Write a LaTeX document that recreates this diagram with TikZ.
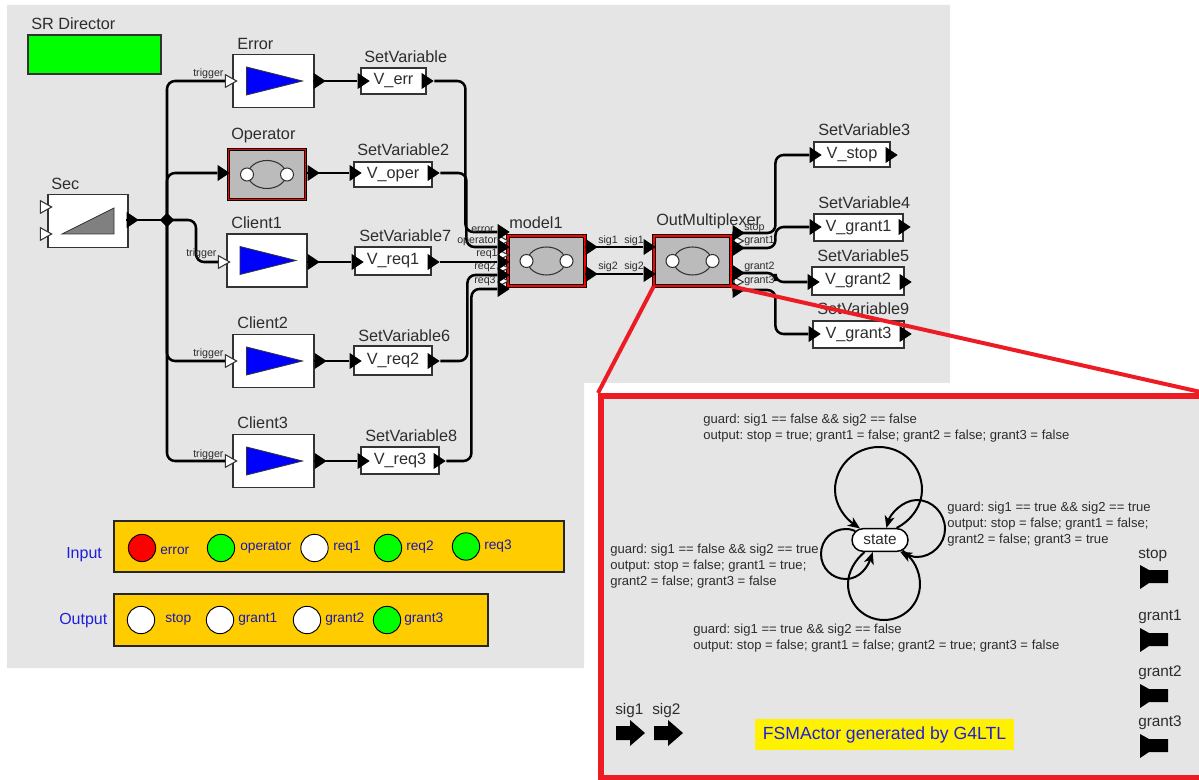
\documentclass[tikz,border=0pt]{standalone}
\usepackage{fontspec}
\setmainfont{Liberation Sans}
\usetikzlibrary{arrows.meta,positioning,shapes.geometric,shapes.misc}
\definecolor{srgray}{RGB}{229,229,229}
\definecolor{srtext}{RGB}{45,45,45}
\definecolor{srred}{RGB}{237,28,36}
\definecolor{srgreen}{RGB}{0,255,0}
\definecolor{srorange}{RGB}{255,204,0}
\definecolor{srblue}{RGB}{30,30,220}
\definecolor{srcomp}{RGB}{187,187,187}
\frenchspacing
\tikzset{
  block/.style={draw=black!80, line width=0.8pt, fill=white, inner sep=0pt},
  compbox/.style={draw=black, double=red, double distance=1.3pt, line width=0.5pt, fill=srcomp, inner sep=0pt, minimum width=77*0.75pt, minimum height=50*0.75pt},
  varbox/.style={block, font=\fontsize{12.2}{14}\selectfont, text=srtext},
  blocklabel/.style={anchor=base west, inner sep=0pt, font=\fontsize{12.2}{14}\selectfont, text=srtext},
  portlabel/.style={anchor=base west, inner sep=0pt, font=\fontsize{8}{9}\selectfont, text=srtext},
  blackport/.style={isosceles triangle, isosceles triangle stretches, fill=black, inner sep=0pt, minimum width=12pt, minimum height=9pt},
  hollowport/.style={isosceles triangle, isosceles triangle stretches, draw=black!80, line width=0.8pt, fill=white, inner sep=0pt, minimum width=9.5pt, minimum height=8.5pt},
  smallport/.style={hollowport, minimum width=7.5pt, minimum height=7pt},
  wire/.style={draw=black, line width=1.9pt, rounded corners=6pt},
  lamp/.style={circle, draw=black, line width=0.7pt, inner sep=0pt, minimum size=20.5pt},
  lamplabel/.style={anchor=base west, inner sep=0pt, font=\fontsize{10.3}{12}\selectfont, text=srblue!80!black},
  panellabel/.style={anchor=base west, inner sep=0pt, font=\fontsize{12}{14}\selectfont, text=srblue},
  panel/.style={draw=black!85, line width=0.8pt, fill=srorange, inner sep=0pt},
  guardtext/.style={anchor=north west, inner sep=0pt, align=left, font=\fontsize{9.8}{11.8}\selectfont, text=srtext},
  fsmloop/.style={draw=black, line width=1.5pt, -{Stealth[length=9pt,width=7.5pt,inset=2.5pt]}},
}
\begin{document}
\begin{tikzpicture}[x=0.75pt,y=-0.75pt]
\useasboundingbox (0,0) rectangle (1199,780);
% backdrop
\fill[srgray] (7,5) -- (950,5) -- (950,383) -- (584,383) -- (584,668) -- (7,668) -- cycle;
% director
\node[blocklabel] (dirlabel) at (31,29.5) {SR Director};
\node[draw=black!80, line width=0.8pt, fill=srgreen, minimum width=133*0.75pt, minimum height=39*0.75pt, inner sep=0pt] (director) at (94.5,54.5) {};
% actors
\foreach \nm/\x/\y/\w in {sec/88/221/80, err/273.5/81/81, cli1/267/260.5/80, cli2/273.5/361/81, cli3/273.5/461/81} {
  \node[block, minimum width=\w*0.75pt, minimum height=53*0.75pt] (\nm) at (\x,\y) {};
}
\foreach \nm in {err,cli1,cli2,cli3} {
  \draw[draw=black!80, line width=0.6pt, fill=blue] (\nm.center) ++(-27,-14) -- ++(56,14) -- ++(-56,14) -- cycle;
}
\draw[draw=black!80, line width=0.6pt, fill=black!50] (sec.center) ++(-26,13) -- ++(52,-26) -- ++(0,26) -- cycle;
% composite actors
\node[compbox] (oper) at (267,174.5) {};
\node[compbox] (model) at (546.5,261) {};
\node[compbox] (outmux) at (692.5,261) {};
\foreach \nm in {oper,model,outmux} {
  \draw[black!80, line width=0.8pt] (\nm.center) ellipse (19 and 14);
  \draw[black!80, line width=0.8pt, fill=white] (\nm.center) ++(-20,0) circle (6.5);
  \draw[black!80, line width=0.8pt, fill=white] (\nm.center) ++(20,0) circle (6.5);
}
% SetVariable boxes
\foreach \nm/\x/\y/\w/\h/\txt in {verr/393.5/81/65/26/V\_err, voper/393/174.5/78/25/V\_oper, vreq1/393/261/76/28/V\_req1, vreq2/393/360.5/78/29/V\_req2, vreq3/400/460.5/78/27/V\_req3, vstop/852/154.5/76/25/V\_stop, vgrant1/858.5/227.5/89/27/V\_grant1, vgrant2/858/281/92/28/V\_grant2, vgrant3/858.5/334.5/91/27/V\_grant3} {
  \node[varbox, minimum width=\w*0.75pt, minimum height=\h*0.75pt] (\nm) at (\x,\y) {\txt};
}
% ports
\foreach \nm/\x/\y in {pseca/44/207, psecb/44/234, perrt/229/81, pcliat/222/262, pclibt/229/361, pclict/229/461} {
  \node[hollowport] (\nm) at (\x,\y) {};
}
\foreach \nm/\x/\y in {pma/502/241, pmb/502/255, pmc/502/268, pmd/502/281, pga/737/241, pgb/737/282} {
  \node[smallport] (\nm) at (\x,\y) {};
}
\foreach \nm/\x/\y in {pseco/131/220, perro/318/81, popi/222/173, popo/312/173, pclia/312/262, pclib/319/361, pclic/319/461, verri/362/81, verro/426/81, voperi/354/173, vopero/432/173, vreqai/356/262, vreqao/432/262, vreqbi/354/361, vreqbo/432/361, vreqci/362/461, vreqco/438/461, merror/502/232, moper/502/247, mreqa/502/262, mreqb/502/275, mreqc/502/289, msiga/590/247, msigb/590/274, osiga/648/247, osigb/648/274, ostop/737/233, ogranta/737/248, ograntb/737/273, ograntc/737/290, vstopi/814/155, vstopo/890/155, vgai/814/227, vgao/903/227, vgbi/812/282, vgbo/904/282, vgci/813/334, vgco/904/334} {
  \node[blackport] (\nm) at (\x,\y) {};
}
\node[diamond, fill=black, inner sep=0pt, minimum size=11pt] (junc) at (167,220) {};
% connections
\draw[wire] (pseco.west) -- (junc.center);
\draw[wire] (junc.center) |- (perrt.west);
\draw[wire] (junc.center) |- (popi.west);
\draw[wire] (junc.center) -- ++(29,0) |- (pcliat.west);
\draw[wire] (junc.center) |- (pclibt.west);
\draw[wire] (junc.center) |- (pclict.west);
\draw[wire] (perro.west) -- (verri.west);
\draw[wire] (popo.west) -- (voperi.west);
\draw[wire] (pclia.west) -- (vreqai.west);
\draw[wire] (pclib.west) -- (vreqbi.west);
\draw[wire] (pclic.west) -- (vreqci.west);
\draw[wire] (verro.east) -- ++(31,0) |- (merror.west);
\draw[wire] (vopero.east) -- ++(26,0) |- (moper.west);
\draw[wire] (vreqao.east) -- (mreqa.west);
\draw[wire] (vreqbo.east) -- ++(27,0) |- (mreqb.west);
\draw[wire] (vreqco.east) -- ++(25,0) |- (mreqc.west);
\draw[wire] (msiga.west) -- (osiga.west);
\draw[wire] (msigb.west) -- (osigb.west);
\draw[wire] (ostop.west) -- ++(43,0) |- (vstopi.west);
\draw[wire] (ogranta.west) -- ++(43,0) |- (vgai.west);
\draw[wire] (ograntb.west) -- ++(43,0) |- (vgbi.west);
\draw[wire] (ograntc.west) -- ++(43,0) |- (vgci.west);
% labels
\foreach \nm/\x/\y/\txt in {labsec/51/189.5/Sec, laberr/237/49.5/Error, labop/231/139.5/Operator, labcli/231/228.5/Client1, labclib/237/328.5/Client2, labclic/237/428.5/Client3, labv/364/62.5/SetVariable, labvb/357/155.5/SetVariable2, labvc/359/241.5/SetVariable7, labvd/358/341.5/SetVariable6, labve/365/441.5/SetVariable8, labvf/818/135.5/SetVariable3, labvg/818/208.5/SetVariable4, labvh/817/261.5/SetVariable5, labvi/817/314.5/SetVariable9, labm/509/229/model1, labo/656/225.5/OutMultiplexer} {
  \node[blocklabel] (\nm) at (\x,\y) {\txt};
}
\foreach \nm/\x/\y/\txt in {ta/193/77/trigger, tb/186/257/trigger, tc/193/357/trigger, td/193/457/trigger, pa/471/233/error, pb/457/244/operator, pc/476/257/req1, pd/474/270/req2, pe/474/284/req3, sa/598/244/sig1, sb/624/244/sig1, sc/598/270/sig2, sd/624/270/sig2, oa/744/231/stop, ob/744/244/grant1, oc/744/270/grant2, od/744/284/grant3} {
  \node[portlabel] (\nm) at (\x,\y) {\txt};
}
% input and output panels
\node[panel, minimum width=450*0.75pt, minimum height=51*0.75pt] (inpanel) at (339,546.5) {};
\node[panel, minimum width=374*0.75pt, minimum height=52*0.75pt] (outpanel) at (301,620) {};
\node[panellabel] (inlabel) at (66,558.5) {Input};
\node[panellabel] (outlabel) at (59,624.5) {Output};
\foreach \nm/\x/\y/\col in {la/142/548/red, lb/221/548/srgreen, lc/314.5/548/white, ld/388/548/srgreen, le/466/546.5/srgreen, lf/141/620/white, lg/220/620/white, lh/307/620/white, li/387/620/srgreen} {
  \node[lamp, fill=\col] (\nm) at (\x,\y) {};
}
\foreach \nm/\x/\y/\txt in {ea/160/554.5/error, eb/240/550/operator, ec/333/550/req1, ed/406/550/req2, ee/484/549/req3, ef/165/622/stop, eg/238/622/grant1, eh/325/622/grant2, ei/404/622/grant3} {
  \node[lamplabel] (\nm) at (\x,\y) {\txt};
}
% FSM inset
\node[draw=srred, line width=4.5pt, fill=srgray, minimum width=601*0.75pt, minimum height=382*0.75pt, inner sep=0pt] (inset) at (901.5,587) {};
\draw[srred, line width=3pt] (outmux.south west) -- (inset.north west);
\draw[srred, line width=3pt] (outmux.south east) -- (inset.north east);
\node[guardtext] (guardtop) at (703,414) {guard: sig1 == false \&\& sig2 == false\\output: stop = true; grant1 = false; grant2 = false; grant3 = false};
\node[guardtext] (guardright) at (947,502) {guard: sig1 == true \&\& sig2 == true\\output: stop = false; grant1 = false;\\grant2 = false; grant3 = true};
\node[guardtext] (guardleft) at (610,544) {guard: sig1 == false \&\& sig2 == true\\output: stop = false; grant1 = true;\\grant2 = false; grant3 = false};
\node[guardtext] (guardbottom) at (693,624) {guard: sig1 == true \&\& sig2 == false\\output: stop = false; grant1 = false; grant2 = true; grant3 = false};
\node[rounded rectangle, draw=black, line width=1.1pt, fill=white, minimum width=42pt, minimum height=17pt, inner sep=0pt, font=\fontsize{11.5}{13}\selectfont, text=srtext] (state) at (880,540) {state};
% self loops
\draw[fsmloop] (state.36) .. controls (912,520) and (922,505) .. (922,490) .. controls (922,466) and (903,447) .. (879,447) .. controls (855,447) and (835,466) .. (835,490) .. controls (835,505) and (845,518) .. (state.150);
\draw[fsmloop] (state.-25) .. controls (909,556) and (913,557) .. (917,557) .. controls (932,557) and (945,544) .. (945,529) .. controls (945,513) and (932,500) .. (917,500) .. controls (902,500) and (890,515) .. (state.62);
\draw[fsmloop] (state.-142) .. controls (855,560) and (848,572) .. (848,584) .. controls (848,604) and (864,620) .. (884,620) .. controls (904,620) and (920,604) .. (920,584) .. controls (920,570) and (912,558) .. (state.-30);
\draw[fsmloop] (state.160) .. controls (850,529) and (848,529) .. (846,529) .. controls (832,529) and (821,540) .. (821,554) .. controls (821,568) and (832,579) .. (846,579) .. controls (860,579) and (868,566) .. (state.-121);
% FSM ports
\foreach \nm/\y/\txt in {stop/558.5/stop, grantw/620.5/grant1, grantx/676.5/grant2, granty/726/grant3} {
  \node[blocklabel, font=\fontsize{11.5}{13}\selectfont] (fsm\nm) at (1138,\y) {\txt};
}
\foreach \y in {577,640,696,746} {
  \fill[black] (1140,\y-12) -- (1149,\y-7) -- (1168,\y-7) -- (1168,\y+6) -- (1149,\y+6) -- (1140,\y+12) -- cycle;
}
\node[blocklabel, font=\fontsize{11.5}{13}\selectfont] (fsmsiga) at (615,714) {sig1};
\node[blocklabel, font=\fontsize{11.5}{13}\selectfont] (fsmsigb) at (652,714) {sig2};
\foreach \x in {616,654} {
  \fill[black] (\x,726) -- (\x+14,726) -- (\x+14,720) -- (\x+29,733) -- (\x+14,746) -- (\x+14,740) -- (\x,740) -- cycle;
}
\node[fill=yellow, minimum width=259*0.75pt, minimum height=31*0.75pt, inner sep=0pt, font=\fontsize{13.2}{15}\selectfont, text=srblue] (fsmnote) at (884.5,734.5) {FSMActor generated by G4LTL};
\end{tikzpicture}
\end{document}
